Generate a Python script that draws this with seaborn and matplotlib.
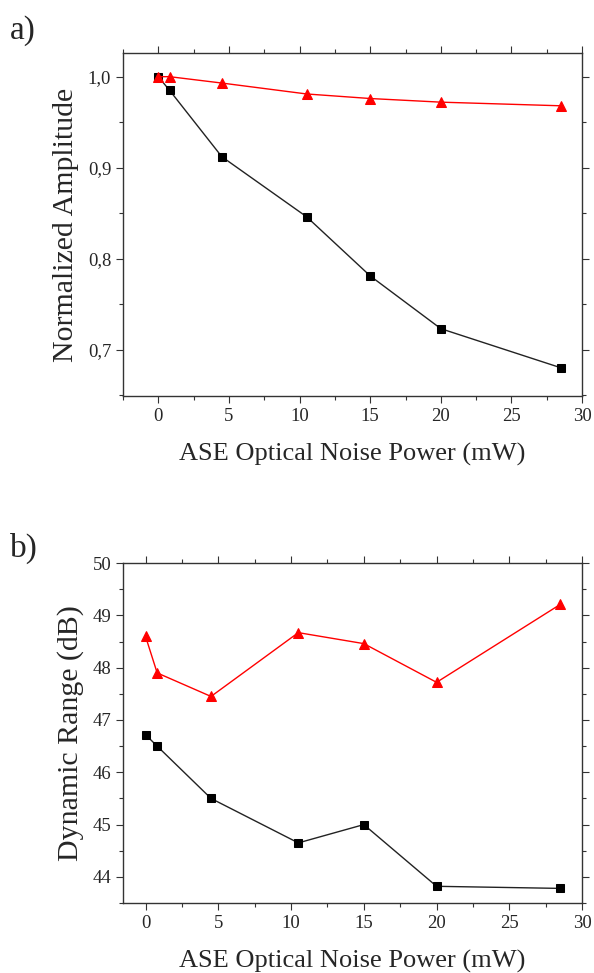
import numpy as np
import pandas as pd
import matplotlib.pyplot as plt
import seaborn as sns
from matplotlib.ticker import MultipleLocator, FuncFormatter

# noise power levels (mW)
power = [0, 0.8, 4.5, 10.5, 15, 20, 28.5]

# a) normalized amplitude
amp_black = [1.0, 0.985, 0.912, 0.846, 0.781, 0.723, 0.680]
amp_red = [1.0, 1.0, 0.993, 0.981, 0.976, 0.972, 0.968]

# b) dynamic range (dB)
dr_black = [46.72, 46.5, 45.5, 44.65, 45.0, 43.82, 43.78]
dr_red = [48.6, 47.9, 47.45, 48.67, 48.46, 47.72, 49.21]

sns.set_style("ticks")
plt.rcParams['font.family'] = ['Liberation Serif', 'DejaVu Serif']

fig = plt.figure(figsize=(5.94, 9.73), dpi=100)
ax1 = fig.add_axes([0.207, 0.593, 0.773, 0.3525])
ax2 = fig.add_axes([0.207, 0.0719, 0.773, 0.3494])

def draw(ax, yb, yr):
    df = pd.DataFrame({"x": power, "black": yb, "red": yr})
    sns.lineplot(data=df, x="x", y="black", ax=ax, color="#222222", lw=1,
                 marker="s", markersize=5.5, markeredgecolor="black",
                 markerfacecolor="black")
    sns.lineplot(data=df, x="x", y="red", ax=ax, color="red", lw=1,
                 marker="^", markersize=6.5, markeredgecolor="red")

def style(ax):
    ax.xaxis.set_major_locator(MultipleLocator(5))
    ax.xaxis.set_minor_locator(MultipleLocator(2.5))
    ax.tick_params(which="both", direction="out", top=True, right=True,
                   labeltop=False, labelright=False, labelsize=13.5,
                   color="#333333", width=0.8)
    ax.tick_params(which="major", length=5)
    ax.tick_params(which="minor", length=3)
    for s in ax.spines.values():
        s.set_visible(True)
        s.set_linewidth(1.0)
        s.set_color("#333333")
    ax.set_xlabel("ASE Optical Noise Power (mW)", fontsize=19, labelpad=13)

draw(ax1, amp_black, amp_red)
style(ax1)
ax1.set_xlim(-2.5, 30)
ax1.set_ylim(0.649, 1.026)
ax1.yaxis.set_major_locator(MultipleLocator(0.1))
ax1.yaxis.set_minor_locator(MultipleLocator(0.05))
ax1.yaxis.set_major_formatter(FuncFormatter(lambda v, p: f"{v:.1f}".replace(".", ",")))
ax1.set_ylabel("Normalized Amplitude", fontsize=21.5, labelpad=6)

draw(ax2, dr_black, dr_red)
style(ax2)
ax2.set_xlim(-1.55, 30)
ax2.set_ylim(43.5, 50)
ax2.yaxis.set_major_locator(MultipleLocator(1))
ax2.yaxis.set_minor_locator(MultipleLocator(0.5))
ax2.set_ylabel("Dynamic Range (dB)", fontsize=21.5, labelpad=6)

fig.text(0.017, 0.96, "a)", fontsize=24)
fig.text(0.017, 0.428, "b)", fontsize=24)

fig.savefig("out.png", dpi=100)
